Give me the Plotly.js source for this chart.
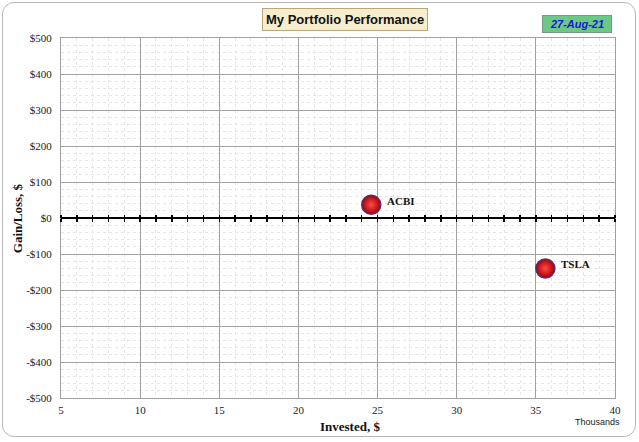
<!DOCTYPE html>
<html>
<head>
<meta charset="utf-8">
<script src="https://cdn.plot.ly/plotly-3.0.1.min.js"></script>
<style>
html,body{margin:0;padding:0;background:#fff;}
#frame{position:absolute;left:2px;top:2px;width:632px;height:433px;border:1px solid #b8b8b8;border-radius:12px;}
#chart{position:absolute;left:0;top:0;width:639px;height:442px;}
</style>
</head>
<body>
<div id="frame"></div>
<div id="chart"></div>
<script>
// Data
const tickers = ['ACBI', 'TSLA'];
const investedThousands = [24.6, 35.6];
const gainLoss = [37, -140];
const yTickVals = [-500, -400, -300, -200, -100, 0, 100, 200, 300, 400, 500];
const yTickText = ['-$500', '-$400', '-$300', '-$200', '-$100', '$0', '$100', '$200', '$300', '$400', '$500'];
const xTickVals = [5, 10, 15, 20, 25, 30, 35, 40];
const chartTitle = 'My Portfolio Performance';
const dateLabel = '27-Aug-21';

const tickFont = {family: 'Liberation Serif, serif', size: 11, color: '#222'};

const trace = {
  type: 'scatter',
  mode: 'markers',
  x: investedThousands,
  y: gainLoss,
  marker: {
    size: 19,
    color: '#a80000',
    gradient: {type: 'radial', color: '#ff4a4a'},
    line: {color: '#5b2a78', width: 1.5}
  },
  hoverinfo: 'skip',
  cliponaxis: false
};

const dummy = {type: 'scatter', x: [5], y: [0], xaxis: 'x2', mode: 'markers', marker: {opacity: 0}, hoverinfo: 'skip', showlegend: false};
const dummy3 = {type: 'scatter', x: [5], y: [0], xaxis: 'x3', mode: 'markers', marker: {opacity: 0}, hoverinfo: 'skip', showlegend: false};

const labelAnnots = tickers.map((t, i) => ({
  text: '<b>' + t + '</b>', x: investedThousands[i], y: gainLoss[i], xref: 'x', yref: 'y',
  xanchor: 'left', yanchor: 'middle', xshift: 14, yshift: 4, showarrow: false,
  font: {family: 'Liberation Serif, serif', size: 11, color: '#111'}
}));

const layout = {
  width: 639, height: 442,
  margin: {l: 61, r: 24, t: 38, b: 44},
  paper_bgcolor: 'rgba(0,0,0,0)',
  plot_bgcolor: '#ffffff',
  showlegend: false,
  xaxis: {
    range: [5, 40], tickvals: xTickVals, ticks: '', showgrid: true,
    gridcolor: '#a0a0a0', gridwidth: 1,
    minor: {dtick: 1, showgrid: true, gridcolor: '#e6e6e6', griddash: 'dot', gridwidth: 1},
    showline: true, linecolor: '#a0a0a0', linewidth: 1, mirror: true,
    zeroline: false, tickfont: tickFont, ticklabelstandoff: 2, fixedrange: true
  },
  xaxis2: {
    overlaying: 'x', anchor: 'free', position: 0.5, range: [5, 40],
    dtick: 1, tick0: 5, ticks: 'outside', ticklen: 3, tickwidth: 1.5, tickcolor: '#000',
    showticklabels: false, showgrid: false, zeroline: false,
    showline: true, linecolor: '#000', linewidth: 2
  },
  xaxis3: {
    overlaying: 'x', anchor: 'free', position: 0.5, side: 'top', range: [5, 40],
    dtick: 1, tick0: 5, ticks: 'outside', ticklen: 3, tickwidth: 1.5, tickcolor: '#000',
    showticklabels: false, showgrid: false, zeroline: false, showline: false
  },
  yaxis: {
    range: [-500, 500], tickvals: yTickVals, ticktext: yTickText,
    showgrid: true, gridcolor: '#a0a0a0', gridwidth: 1,
    minor: {dtick: 20, showgrid: true, gridcolor: '#e6e6e6', griddash: 'dot', gridwidth: 1},
    ticks: '',
    showline: true, linecolor: '#a0a0a0', linewidth: 1, mirror: true,
    zeroline: false, tickfont: tickFont, ticklabelstandoff: 6, fixedrange: true
  },
  annotations: [
    {text: '<b>' + chartTitle + '</b>', xref: 'paper', yref: 'paper', x: 0.513, y: 1.05,
     xanchor: 'center', yanchor: 'middle',
     showarrow: false, font: {family: 'Liberation Sans, Arial, sans-serif', size: 13, color: '#111'},
     bgcolor: '#f6edcf', bordercolor: '#b8a77a', borderwidth: 1, borderpad: 3},
    {text: '<b><i>' + dateLabel + '</i></b>', xref: 'paper', yref: 'paper', x: 0.931, y: 1.039,
     xanchor: 'center', yanchor: 'middle',
     showarrow: false, font: {family: 'Liberation Sans, Arial, sans-serif', size: 11, color: '#1515e0'},
     bgcolor: '#6cc985', bordercolor: '#7a9a80', borderwidth: 1, borderpad: 2, width: 64},
    {text: '<b>Gain/Loss, $</b>', xref: 'paper', yref: 'paper', x: -0.079, y: 0.5, textangle: -90,
     xanchor: 'center', yanchor: 'middle',
     showarrow: false, font: {family: 'Liberation Serif, serif', size: 13, color: '#111'}},
    {text: '<b>Invested, $</b>', xref: 'paper', yref: 'paper', x: 0.522, y: -0.08,
     xanchor: 'center', yanchor: 'middle',
     showarrow: false, font: {family: 'Liberation Serif, serif', size: 13, color: '#111'}},
    {text: 'Thousands', xref: 'paper', yref: 'paper', x: 0.969, y: -0.066,
     xanchor: 'center', yanchor: 'middle',
     showarrow: false, font: {family: 'Liberation Sans, Arial, sans-serif', size: 9, color: '#222'}}
  ].concat(labelAnnots)
};

Plotly.newPlot('chart', [trace, dummy, dummy3], layout, {displayModeBar: false, staticPlot: true});
</script>
</body>
</html>
